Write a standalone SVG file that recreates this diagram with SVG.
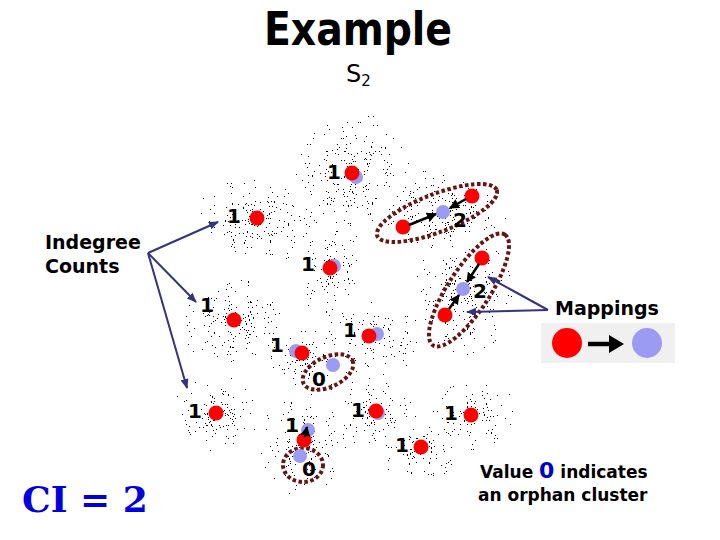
<svg xmlns="http://www.w3.org/2000/svg" width="720" height="540" viewBox="0 0 720 540">
<style>
.t{font-family:"DejaVu Sans",Verdana,sans-serif;font-weight:bold;fill:#000}
.n{font-family:"DejaVu Sans",Verdana,sans-serif;font-weight:bold;font-size:20px;fill:#000;text-anchor:middle}
.red{fill:#ff0000}
.blue{fill:#9b9bf3}
.ring{fill:none;stroke:#661414;stroke-width:4;stroke-dasharray:3.5 2.5}
.nav{stroke:#333380;stroke-width:2;fill:none;marker-end:url(#navy)}
.blk{stroke:#000;stroke-width:2.5;fill:none;marker-end:url(#blk)}
.sp{fill:url(#g);filter:url(#speck)}
</style>
<defs>
<marker id="navy" markerUnits="userSpaceOnUse" markerWidth="10" markerHeight="8" refX="9" refY="4" orient="auto"><path d="M0,0 L10,4 L0,8 z" fill="#333380"/></marker>
<marker id="blk" markerUnits="userSpaceOnUse" markerWidth="10" markerHeight="10" refX="9" refY="5" orient="auto"><path d="M0,0 L10,5 L0,10 z" fill="#000"/></marker>
<radialGradient id="g"><stop offset="0" stop-color="#000" stop-opacity="1"/><stop offset="0.5" stop-color="#000" stop-opacity="0.935"/><stop offset="1" stop-color="#000" stop-opacity="0.885"/></radialGradient>
<filter id="speck" color-interpolation-filters="sRGB">
<feTurbulence type="fractalNoise" baseFrequency="0.95 0.55" numOctaves="2" seed="7" result="n"/>
<feColorMatrix in="n" type="matrix" values="0 0 0 0 0 0 0 0 0 0 0 0 0 0 0 1 0 0 0 0.22" result="na"/>
<feComposite in="na" in2="SourceAlpha" operator="arithmetic" k1="0" k2="1" k3="1" k4="-1" result="m"/>
<feComponentTransfer in="m"><feFuncA type="discrete" tableValues="0 0 0 0 0 0 0 1"/></feComponentTransfer>
</filter>
</defs>
<rect width="720" height="540" fill="#fff"/>

<g id="speckles">
<ellipse class="sp" cx="352" cy="174" rx="58" ry="64"/>
<ellipse class="sp" cx="258" cy="222" rx="66" ry="44"/>
<ellipse class="sp" cx="440" cy="213" rx="68" ry="44"/>
<ellipse class="sp" cx="330" cy="272" rx="34" ry="52"/>
<ellipse class="sp" cx="463" cy="292" rx="50" ry="66"/>
<ellipse class="sp" cx="236" cy="322" rx="58" ry="45"/>
<ellipse class="sp" cx="372" cy="336" rx="50" ry="42"/>
<ellipse class="sp" cx="310" cy="360" rx="46" ry="36"/>
<ellipse class="sp" cx="218" cy="414" rx="48" ry="40"/>
<ellipse class="sp" cx="302" cy="446" rx="46" ry="50"/>
<ellipse class="sp" cx="376" cy="412" rx="48" ry="36"/>
<ellipse class="sp" cx="472" cy="414" rx="48" ry="38"/>
<ellipse class="sp" cx="421" cy="448" rx="44" ry="36"/>
</g>

<g id="title">
<text class="t" x="358" y="45" font-size="46" text-anchor="middle" textLength="188" lengthAdjust="spacingAndGlyphs" style="font-family:'DejaVu Sans Condensed','DejaVu Sans',sans-serif">Example</text>
<text x="346" y="82" font-family="DejaVu Sans,Verdana,sans-serif" font-size="24" fill="#000">S<tspan font-size="15" dy="4">2</tspan></text>
</g>

<g id="rings">
<ellipse class="ring" cx="437" cy="213" rx="64" ry="19" transform="rotate(-21 437 213)"/>
<ellipse class="ring" cx="469" cy="290" rx="66" ry="21" transform="rotate(-57 469 290)"/>
<ellipse class="ring" cx="328" cy="372" rx="27" ry="15" transform="rotate(-25 328 372)"/>
<ellipse class="ring" cx="303" cy="465" rx="20" ry="17"/>
</g>

<g id="clusters">
<circle class="blue" cx="356" cy="177" r="7"/><circle class="red" cx="352" cy="173" r="7.5"/>
<circle class="red" cx="257" cy="218" r="7.5"/>
<circle class="red" cx="403" cy="227" r="7.5"/><circle class="blue" cx="443" cy="212" r="7"/><circle class="red" cx="472" cy="196" r="7.5"/>
<circle class="blue" cx="334" cy="266" r="7"/><circle class="red" cx="330" cy="268" r="7.5"/>
<circle class="red" cx="482" cy="258" r="7.5"/><circle class="blue" cx="463" cy="289" r="7"/><circle class="red" cx="445" cy="315" r="7.5"/>
<circle class="red" cx="234" cy="320" r="7.5"/>
<circle class="blue" cx="377" cy="334" r="7"/><circle class="red" cx="369" cy="336" r="7.5"/>
<circle class="blue" cx="296" cy="351" r="7"/><circle class="red" cx="302" cy="353" r="7.5"/>
<circle class="blue" cx="333" cy="365" r="7"/>
<circle class="red" cx="216" cy="413" r="7.5"/>
<circle class="blue" cx="378" cy="413" r="7"/><circle class="red" cx="376" cy="411" r="7.5"/>
<circle class="red" cx="471" cy="415" r="7.5"/>
<circle class="red" cx="421" cy="447" r="7.5"/>
<circle class="blue" cx="308" cy="430" r="7"/><circle class="red" cx="304" cy="440" r="7.5"/>
<circle class="blue" cx="300" cy="456" r="7"/>
</g>

<g id="labels">
<text class="n" x="334" y="179">1</text>
<text class="n" x="234" y="223">1</text>
<text class="n" x="460" y="227" font-size="22">2</text>
<text class="n" x="308" y="271">1</text>
<text class="n" x="480" y="298" font-size="22">2</text>
<text class="n" x="207" y="312">1</text>
<text class="n" x="350" y="337">1</text>
<text class="n" x="277" y="352">1</text>
<text class="n" x="319" y="386">0</text>
<text class="n" x="195" y="418">1</text>
<text class="n" x="358" y="417">1</text>
<text class="n" x="451" y="420">1</text>
<text class="n" x="402" y="452">1</text>
<text class="n" x="292" y="432">1</text>
<text class="n" x="309" y="476">0</text>
</g>

<g id="connectors">
<path class="blk" d="M409,225 L436,214"/>
<path class="blk" d="M466,199 L450,208"/>
<path class="blk" d="M479,264 L467,282"/>
<path class="blk" d="M449,309 L459,295"/>
<path class="blk" d="M305,437 L307,427"/>
<path class="nav" d="M148,253 L218,222"/>
<path class="nav" d="M148,253 L196,302"/>
<path class="nav" d="M148,253 L187,388"/>
<path class="nav" d="M548,310 L488,277"/>
<path class="nav" d="M548,310 L467,312"/>
</g>

<g id="indegree">
<text class="t" x="45" y="249" font-size="19">Indegree</text>
<text class="t" x="45" y="273" font-size="19">Counts</text>
</g>

<g id="mappings">
<text class="t" x="555" y="315" font-size="19">Mappings</text>
<rect x="541" y="323" width="134" height="40" fill="#f0f0f0"/>
<circle class="red" cx="567" cy="343" r="15"/>
<circle class="blue" cx="647" cy="343" r="15"/>
<path d="M588,344 L613,344" stroke="#000" stroke-width="4.5"/>
<path d="M609,335 L624,344 L609,353 Z" fill="#000"/>
</g>

<g id="note">
<text class="t" x="480" y="478" font-size="17">Value <tspan fill="#0000cc" font-size="22">0</tspan> indicates</text>
<text class="t" x="478" y="501" font-size="17">an orphan cluster</text>
</g>

<g id="ci">
<text x="22" y="512" font-family="'DejaVu Serif','Liberation Serif',serif" font-weight="bold" font-size="36" fill="#0000dd">CI = 2</text>
</g>
</svg>
